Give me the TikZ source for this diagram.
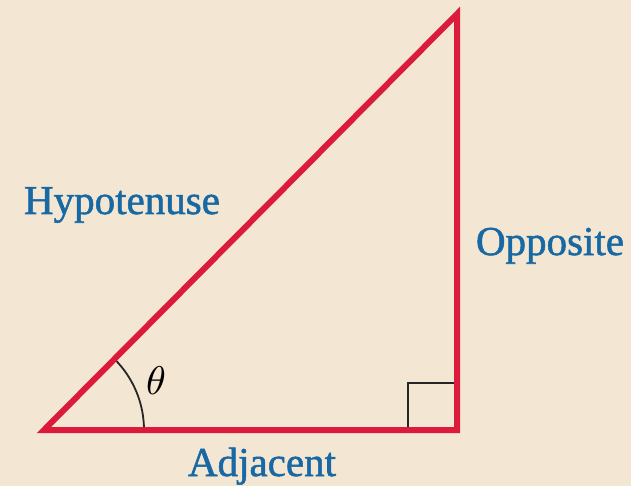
\documentclass[tikz,border=0pt]{standalone}
\usepackage{fontspec}
\setmainfont{Liberation Serif}
\newfontfamily\labfont{Liberation Serif}[FakeBold=1.3]
\definecolor{bg}{RGB}{243,231,211}
\definecolor{tri}{RGB}{220,26,60}
\definecolor{lbl}{RGB}{24,104,164}
\begin{document}
\begin{tikzpicture}[x=1pt,y=-1pt,
  side/.style={draw=tri,line width=6pt,line join=miter},
  tickline/.style={draw=black!85,line width=2.2pt},
  lab/.style={text=lbl,font=\labfont\fontsize{41}{44}\selectfont,inner sep=0pt}]
\fill[bg] (0,0) rectangle (631,486);
\useasboundingbox (0,0) rectangle (631,486);
\coordinate (A) at (44,430);
\coordinate (B) at (457,430);
\coordinate (C) at (457,14);
\draw[tickline,line width=1.8pt] (A) ++(100,0) arc[start angle=0,end angle=-45.2,radius=100];
\draw[tickline] (408,430) -- (408,383) -- (457,383);
\draw[side] (A) -- (B) -- (C) -- cycle;
\node[lab,anchor=base] (hyp) at (122,214) {Hypotenuse};
\node[lab,anchor=base] (opp) at (550,255) {Opposite};
\node[lab,anchor=base] (adj) at (262,476) {Adjacent};
\node[inner sep=0pt,scale=4] (th) at (156,381) {$\theta$};
\end{tikzpicture}
\end{document}
